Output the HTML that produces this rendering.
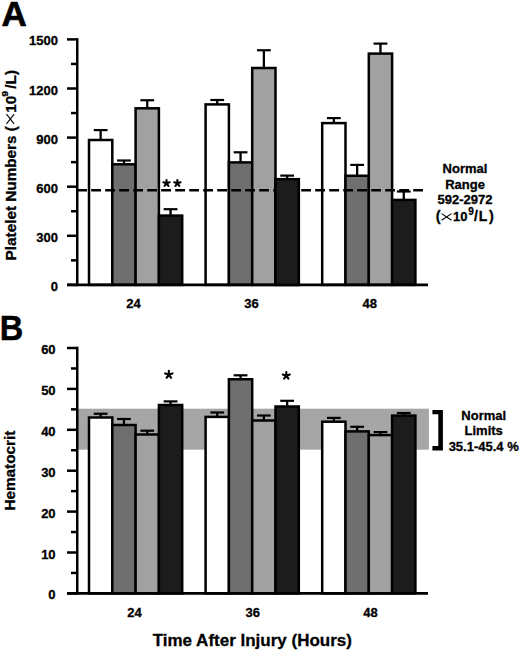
<!DOCTYPE html><html><head><meta charset="utf-8"><style>html,body{margin:0;padding:0;background:#fff;width:520px;height:651px;overflow:hidden}svg{display:block}text{font-family:"Liberation Sans",sans-serif;font-weight:bold;fill:#000;stroke:#000;stroke-width:0.3px}.t13{font-size:13px}</style></head><body>
<svg width="520" height="651" viewBox="0 0 520 651">
<text x="1.4" y="26.4" style="font-size:35px;stroke:#000;stroke-width:0.7px">A</text>
<text transform="translate(-0.2,340) scale(0.93,1)" style="font-size:35px;stroke:#000;stroke-width:0.5px">B</text>
<line x1="100.65" y1="140.00" x2="100.65" y2="130.10" stroke="#000" stroke-width="2.3"/>
<line x1="93.75" y1="130.10" x2="107.55" y2="130.10" stroke="#000" stroke-width="2.2"/>
<rect x="89.00" y="140.00" width="23.30" height="144.90" fill="#ffffff" stroke="#000" stroke-width="2.5"/>
<line x1="123.95" y1="164.30" x2="123.95" y2="160.50" stroke="#000" stroke-width="2.3"/>
<line x1="117.05" y1="160.50" x2="130.85" y2="160.50" stroke="#000" stroke-width="2.2"/>
<rect x="112.30" y="164.30" width="23.30" height="120.60" fill="#6f6f6f" stroke="#000" stroke-width="2.5"/>
<line x1="147.25" y1="108.30" x2="147.25" y2="100.25" stroke="#000" stroke-width="2.3"/>
<line x1="140.35" y1="100.25" x2="154.15" y2="100.25" stroke="#000" stroke-width="2.2"/>
<rect x="135.60" y="108.30" width="23.30" height="176.60" fill="#a1a1a1" stroke="#000" stroke-width="2.5"/>
<line x1="170.55" y1="215.60" x2="170.55" y2="209.20" stroke="#000" stroke-width="2.3"/>
<line x1="163.65" y1="209.20" x2="177.45" y2="209.20" stroke="#000" stroke-width="2.2"/>
<rect x="158.90" y="215.60" width="23.30" height="69.30" fill="#1c1c1c" stroke="#000" stroke-width="2.5"/>
<line x1="217.25" y1="104.40" x2="217.25" y2="100.00" stroke="#000" stroke-width="2.3"/>
<line x1="210.35" y1="100.00" x2="224.15" y2="100.00" stroke="#000" stroke-width="2.2"/>
<rect x="205.60" y="104.40" width="23.30" height="180.50" fill="#ffffff" stroke="#000" stroke-width="2.5"/>
<line x1="240.55" y1="162.40" x2="240.55" y2="152.30" stroke="#000" stroke-width="2.3"/>
<line x1="233.65" y1="152.30" x2="247.45" y2="152.30" stroke="#000" stroke-width="2.2"/>
<rect x="228.90" y="162.40" width="23.30" height="122.50" fill="#6f6f6f" stroke="#000" stroke-width="2.5"/>
<line x1="263.85" y1="68.00" x2="263.85" y2="50.25" stroke="#000" stroke-width="2.3"/>
<line x1="256.95" y1="50.25" x2="270.75" y2="50.25" stroke="#000" stroke-width="2.2"/>
<rect x="252.20" y="68.00" width="23.30" height="216.90" fill="#a1a1a1" stroke="#000" stroke-width="2.5"/>
<line x1="287.15" y1="179.20" x2="287.15" y2="175.60" stroke="#000" stroke-width="2.3"/>
<line x1="280.25" y1="175.60" x2="294.05" y2="175.60" stroke="#000" stroke-width="2.2"/>
<rect x="275.50" y="179.20" width="23.30" height="105.70" fill="#1c1c1c" stroke="#000" stroke-width="2.5"/>
<line x1="333.85" y1="123.10" x2="333.85" y2="118.10" stroke="#000" stroke-width="2.3"/>
<line x1="326.95" y1="118.10" x2="340.75" y2="118.10" stroke="#000" stroke-width="2.2"/>
<rect x="322.20" y="123.10" width="23.30" height="161.80" fill="#ffffff" stroke="#000" stroke-width="2.5"/>
<line x1="357.15" y1="175.75" x2="357.15" y2="164.90" stroke="#000" stroke-width="2.3"/>
<line x1="350.25" y1="164.90" x2="364.05" y2="164.90" stroke="#000" stroke-width="2.2"/>
<rect x="345.50" y="175.75" width="23.30" height="109.15" fill="#6f6f6f" stroke="#000" stroke-width="2.5"/>
<line x1="380.45" y1="53.60" x2="380.45" y2="43.60" stroke="#000" stroke-width="2.3"/>
<line x1="373.55" y1="43.60" x2="387.35" y2="43.60" stroke="#000" stroke-width="2.2"/>
<rect x="368.80" y="53.60" width="23.30" height="231.30" fill="#a1a1a1" stroke="#000" stroke-width="2.5"/>
<line x1="403.75" y1="199.90" x2="403.75" y2="191.50" stroke="#000" stroke-width="2.3"/>
<line x1="396.85" y1="191.50" x2="410.65" y2="191.50" stroke="#000" stroke-width="2.2"/>
<rect x="392.10" y="199.90" width="23.30" height="85.00" fill="#1c1c1c" stroke="#000" stroke-width="2.5"/>
<line x1="77.25" y1="38.15" x2="77.25" y2="286.15" stroke="#000" stroke-width="2.5"/>
<line x1="67" y1="284.90" x2="77.25" y2="284.90" stroke="#000" stroke-width="2.5"/>
<line x1="67" y1="235.80" x2="77.25" y2="235.80" stroke="#000" stroke-width="2.5"/>
<line x1="67" y1="186.70" x2="77.25" y2="186.70" stroke="#000" stroke-width="2.5"/>
<line x1="67" y1="137.60" x2="77.25" y2="137.60" stroke="#000" stroke-width="2.5"/>
<line x1="67" y1="88.50" x2="77.25" y2="88.50" stroke="#000" stroke-width="2.5"/>
<line x1="67" y1="39.40" x2="77.25" y2="39.40" stroke="#000" stroke-width="2.5"/>
<line x1="71" y1="260.35" x2="77.25" y2="260.35" stroke="#000" stroke-width="2.5"/>
<line x1="71" y1="211.25" x2="77.25" y2="211.25" stroke="#000" stroke-width="2.5"/>
<line x1="71" y1="162.15" x2="77.25" y2="162.15" stroke="#000" stroke-width="2.5"/>
<line x1="71" y1="113.05" x2="77.25" y2="113.05" stroke="#000" stroke-width="2.5"/>
<line x1="71" y1="63.95" x2="77.25" y2="63.95" stroke="#000" stroke-width="2.5"/>
<line x1="67" y1="284.90" x2="428" y2="284.90" stroke="#000" stroke-width="2.6"/>
<text x="57.9" y="290.90" text-anchor="end" class="t13">0</text>
<text x="57.9" y="241.80" text-anchor="end" class="t13">300</text>
<text x="57.9" y="192.70" text-anchor="end" class="t13">600</text>
<text x="57.9" y="143.60" text-anchor="end" class="t13">900</text>
<text x="57.9" y="94.50" text-anchor="end" class="t13">1200</text>
<text x="57.9" y="45.40" text-anchor="end" class="t13">1500</text>
<line x1="77.2" y1="190.3" x2="423.3" y2="190.3" stroke="#000" stroke-width="2.4" stroke-dasharray="9.8 4.2"/>
<rect x="275.50" y="179.20" width="23.30" height="105.70" fill="#1c1c1c" stroke="#000" stroke-width="2.5"/>
<path d="M166.50 183.30 L166.50 180.00 M166.50 183.30 L169.64 182.28 M166.50 183.30 L168.44 185.97 M166.50 183.30 L164.56 185.97 M166.50 183.30 L163.36 182.28" stroke="#000" stroke-width="2.1" stroke-linecap="round" fill="none"/>
<path d="M177.40 183.30 L177.40 180.00 M177.40 183.30 L180.54 182.28 M177.40 183.30 L179.34 185.97 M177.40 183.30 L175.46 185.97 M177.40 183.30 L174.26 182.28" stroke="#000" stroke-width="2.1" stroke-linecap="round" fill="none"/>
<text x="133.60" y="308.00" text-anchor="middle" class="t13">24</text>
<text x="251.50" y="308.00" text-anchor="middle" class="t13">36</text>
<text x="369.80" y="308.00" text-anchor="middle" class="t13">48</text>
<text x="465" y="172.8" text-anchor="middle" class="t13">Normal</text>
<text x="465" y="188.7" text-anchor="middle" class="t13">Range</text>
<text x="465" y="204.4" text-anchor="middle" class="t13">592-2972</text>
<text x="435.8" y="220.9" style="font-size:14.5px">(</text>
<path d="M441.6 213.6 L451.5 220.2 M441.6 220.2 L451.5 213.6" stroke="#000" stroke-width="1.1" fill="none"/>
<text x="453" y="220.8" class="t13">10</text>
<text x="468.2" y="215.3" style="font-size:10px">9</text>
<text x="474.1" y="220.8" style="font-size:14px">/</text>
<text x="478.8" y="220.8" style="font-size:14px">L</text>
<text x="488.9" y="220.9" style="font-size:14.5px">)</text>
<g transform="translate(16,259.4) rotate(-90) scale(1.035,1)"><text x="-1" y="0" style="font-size:14.8px">Platelet Numbers (</text><path d="M131 -9.5 L140.3 -1.9 M131 -1.9 L140.3 -9.5" stroke="#000" stroke-width="1.1" fill="none"/><text x="141.8" y="0" style="font-size:14.8px">10</text><text transform="translate(157.2,-8.4) scale(1.12,1)" style="font-size:9.3px">9</text><text x="165" y="0" style="font-size:14.8px">/L)</text></g>
<rect x="77" y="408.7" width="351.9" height="41.0" fill="#a6a6a6"/>
<line x1="100.65" y1="417.50" x2="100.65" y2="413.75" stroke="#000" stroke-width="2.3"/>
<line x1="93.75" y1="413.75" x2="107.55" y2="413.75" stroke="#000" stroke-width="2.2"/>
<rect x="89.00" y="417.50" width="23.30" height="175.90" fill="#ffffff" stroke="#000" stroke-width="2.5"/>
<line x1="123.95" y1="425.00" x2="123.95" y2="419.00" stroke="#000" stroke-width="2.3"/>
<line x1="117.05" y1="419.00" x2="130.85" y2="419.00" stroke="#000" stroke-width="2.2"/>
<rect x="112.30" y="425.00" width="23.30" height="168.40" fill="#6f6f6f" stroke="#000" stroke-width="2.5"/>
<line x1="147.25" y1="434.50" x2="147.25" y2="430.70" stroke="#000" stroke-width="2.3"/>
<line x1="140.35" y1="430.70" x2="154.15" y2="430.70" stroke="#000" stroke-width="2.2"/>
<rect x="135.60" y="434.50" width="23.30" height="158.90" fill="#a1a1a1" stroke="#000" stroke-width="2.5"/>
<line x1="170.55" y1="405.00" x2="170.55" y2="401.40" stroke="#000" stroke-width="2.3"/>
<line x1="163.65" y1="401.40" x2="177.45" y2="401.40" stroke="#000" stroke-width="2.2"/>
<rect x="158.90" y="405.00" width="23.30" height="188.40" fill="#1c1c1c" stroke="#000" stroke-width="2.5"/>
<line x1="217.25" y1="416.90" x2="217.25" y2="412.50" stroke="#000" stroke-width="2.3"/>
<line x1="210.35" y1="412.50" x2="224.15" y2="412.50" stroke="#000" stroke-width="2.2"/>
<rect x="205.60" y="416.90" width="23.30" height="176.50" fill="#ffffff" stroke="#000" stroke-width="2.5"/>
<line x1="240.55" y1="379.25" x2="240.55" y2="375.30" stroke="#000" stroke-width="2.3"/>
<line x1="233.65" y1="375.30" x2="247.45" y2="375.30" stroke="#000" stroke-width="2.2"/>
<rect x="228.90" y="379.25" width="23.30" height="214.15" fill="#6f6f6f" stroke="#000" stroke-width="2.5"/>
<line x1="263.85" y1="420.50" x2="263.85" y2="415.50" stroke="#000" stroke-width="2.3"/>
<line x1="256.95" y1="415.50" x2="270.75" y2="415.50" stroke="#000" stroke-width="2.2"/>
<rect x="252.20" y="420.50" width="23.30" height="172.90" fill="#a1a1a1" stroke="#000" stroke-width="2.5"/>
<line x1="287.15" y1="406.50" x2="287.15" y2="400.80" stroke="#000" stroke-width="2.3"/>
<line x1="280.25" y1="400.80" x2="294.05" y2="400.80" stroke="#000" stroke-width="2.2"/>
<rect x="275.50" y="406.50" width="23.30" height="186.90" fill="#1c1c1c" stroke="#000" stroke-width="2.5"/>
<line x1="333.85" y1="421.70" x2="333.85" y2="417.90" stroke="#000" stroke-width="2.3"/>
<line x1="326.95" y1="417.90" x2="340.75" y2="417.90" stroke="#000" stroke-width="2.2"/>
<rect x="322.20" y="421.70" width="23.30" height="171.70" fill="#ffffff" stroke="#000" stroke-width="2.5"/>
<line x1="357.15" y1="431.40" x2="357.15" y2="426.80" stroke="#000" stroke-width="2.3"/>
<line x1="350.25" y1="426.80" x2="364.05" y2="426.80" stroke="#000" stroke-width="2.2"/>
<rect x="345.50" y="431.40" width="23.30" height="162.00" fill="#6f6f6f" stroke="#000" stroke-width="2.5"/>
<line x1="380.45" y1="435.10" x2="380.45" y2="432.10" stroke="#000" stroke-width="2.3"/>
<line x1="373.55" y1="432.10" x2="387.35" y2="432.10" stroke="#000" stroke-width="2.2"/>
<rect x="368.80" y="435.10" width="23.30" height="158.30" fill="#a1a1a1" stroke="#000" stroke-width="2.5"/>
<line x1="403.75" y1="415.60" x2="403.75" y2="413.00" stroke="#000" stroke-width="2.3"/>
<line x1="396.85" y1="413.00" x2="410.65" y2="413.00" stroke="#000" stroke-width="2.2"/>
<rect x="392.10" y="415.60" width="23.30" height="177.80" fill="#1c1c1c" stroke="#000" stroke-width="2.5"/>
<line x1="77.25" y1="346.75" x2="77.25" y2="594.65" stroke="#000" stroke-width="2.5"/>
<line x1="67" y1="593.40" x2="77.25" y2="593.40" stroke="#000" stroke-width="2.5"/>
<line x1="67" y1="552.50" x2="77.25" y2="552.50" stroke="#000" stroke-width="2.5"/>
<line x1="67" y1="511.60" x2="77.25" y2="511.60" stroke="#000" stroke-width="2.5"/>
<line x1="67" y1="470.70" x2="77.25" y2="470.70" stroke="#000" stroke-width="2.5"/>
<line x1="67" y1="429.80" x2="77.25" y2="429.80" stroke="#000" stroke-width="2.5"/>
<line x1="67" y1="388.90" x2="77.25" y2="388.90" stroke="#000" stroke-width="2.5"/>
<line x1="67" y1="348.00" x2="77.25" y2="348.00" stroke="#000" stroke-width="2.5"/>
<line x1="71" y1="572.95" x2="77.25" y2="572.95" stroke="#000" stroke-width="2.5"/>
<line x1="71" y1="532.05" x2="77.25" y2="532.05" stroke="#000" stroke-width="2.5"/>
<line x1="71" y1="491.15" x2="77.25" y2="491.15" stroke="#000" stroke-width="2.5"/>
<line x1="71" y1="450.25" x2="77.25" y2="450.25" stroke="#000" stroke-width="2.5"/>
<line x1="71" y1="409.35" x2="77.25" y2="409.35" stroke="#000" stroke-width="2.5"/>
<line x1="71" y1="368.45" x2="77.25" y2="368.45" stroke="#000" stroke-width="2.5"/>
<line x1="67" y1="593.40" x2="428" y2="593.40" stroke="#000" stroke-width="2.6"/>
<text x="55.6" y="599.40" text-anchor="end" class="t13">0</text>
<text x="55.6" y="558.50" text-anchor="end" class="t13">10</text>
<text x="55.6" y="517.60" text-anchor="end" class="t13">20</text>
<text x="55.6" y="476.70" text-anchor="end" class="t13">30</text>
<text x="55.6" y="435.80" text-anchor="end" class="t13">40</text>
<text x="55.6" y="394.90" text-anchor="end" class="t13">50</text>
<text x="55.6" y="354.00" text-anchor="end" class="t13">60</text>
<text x="134.60" y="616.90" text-anchor="middle" class="t13">24</text>
<text x="252.70" y="616.90" text-anchor="middle" class="t13">36</text>
<text x="370.60" y="616.90" text-anchor="middle" class="t13">48</text>
<path d="M168.85 374.60 L168.85 370.70 M168.85 374.60 L172.56 373.39 M168.85 374.60 L171.14 377.76 M168.85 374.60 L166.56 377.76 M168.85 374.60 L165.14 373.39" stroke="#000" stroke-width="2.1" stroke-linecap="round" fill="none"/>
<path d="M286.30 375.70 L286.30 372.00 M286.30 375.70 L289.82 374.56 M286.30 375.70 L288.47 378.69 M286.30 375.70 L284.13 378.69 M286.30 375.70 L282.78 374.56" stroke="#000" stroke-width="2.1" stroke-linecap="round" fill="none"/>
<path d="M432.4 409.9 H442.9 V450.4 H432.4 V446 H438.3 V414.3 H432.4 Z" fill="#000"/>
<text x="483.7" y="419.6" text-anchor="middle" class="t13">Normal</text>
<text x="483.7" y="435" text-anchor="middle" class="t13">Limits</text>
<text x="483.7" y="450.5" text-anchor="middle" class="t13">35.1-45.4 %</text>
<text transform="translate(15.4,509.6) rotate(-90)" x="-1" style="font-size:15.3px">Hematocrit</text>
<text x="252.3" y="645.8" text-anchor="middle" style="font-size:17px">Time After Injury (Hours)</text>
</svg></body></html>
